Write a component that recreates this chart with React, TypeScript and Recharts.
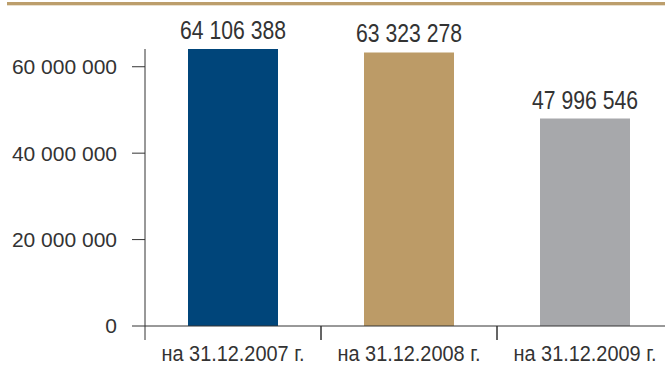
import { BarChart, Bar, XAxis, YAxis, Cell, LabelList } from 'recharts';

const categories = ['на 31.12.2007 г.', 'на 31.12.2008 г.', 'на 31.12.2009 г.'];
const values = [64106388, 63323278, 47996546];
const barColors = ['#00457a', '#bc9b67', '#a7a8ab'];
const yTicks = [0, 20000000, 40000000, 60000000];

const data = categories.map((name, i) => ({ name, value: values[i] }));

const fmt = (v: number) => String(v).replace(/\B(?=(\d{3})+(?!\d))/g, ' ');

const font = '"Liberation Sans", Arial, sans-serif';
const textColor = '#333333';
const axisColor = '#333333';

// category label plus the boundary tick marks on both sides of the band
function CategoryTick(props: any) {
  const { x, y, payload } = props;
  const half = payload.offset || 0;
  return (
    <g>
      <line x1={x - half} x2={x - half} y1={y} y2={y + 14} stroke={axisColor} />
      <line x1={x + half} x2={x + half} y1={y} y2={y + 14} stroke={axisColor} />
      <text
        x={x}
        y={y + 35}
        textAnchor="middle"
        fill={textColor}
        fontSize={22}
        fontFamily={font}
        textLength={143}
        lengthAdjust="spacingAndGlyphs"
      >
        {payload.value}
      </text>
    </g>
  );
}

function ValueLabel(props: any) {
  const { x, y, width, value } = props;
  return (
    <text
      x={x + width / 2}
      y={y - 10}
      textAnchor="middle"
      fill={textColor}
      fontSize={25}
      fontFamily={font}
      textLength={106}
      lengthAdjust="spacingAndGlyphs"
    >
      {fmt(Number(value))}
    </text>
  );
}

export default function App() {
  return (
    <div
      style={{
        position: 'fixed',
        left: 0,
        top: 0,
        width: 665,
        height: 365,
        overflow: 'hidden',
        background: '#fff',
        fontFamily: font,
      }}
    >
      <div style={{ position: 'absolute', left: 7, top: 2, width: 658, height: 3, background: '#bc9e6c' }} />
      <div style={{ position: 'absolute', left: 7, top: 5, width: 658, height: 1, background: '#e9e0cf' }} />
      <BarChart
        width={680}
        height={365}
        data={data}
        margin={{ top: 49, right: 7, bottom: 0, left: 0 }}
        barCategoryGap={43}
      >
        <XAxis
          dataKey="name"
          height={39}
          stroke={axisColor}
          tickLine={false}
          tickSize={0}
          tickMargin={0}
          interval={0}
          tick={<CategoryTick />}
        />
        <YAxis
          width={145}
          domain={[0, 64106388]}
          ticks={yTicks}
          tickFormatter={fmt}
          tickSize={13}
          tickMargin={15}
          stroke={axisColor}
          tick={{ fill: textColor, fontSize: 21, fontFamily: font }}
        />
        <Bar dataKey="value" isAnimationActive={false}>
          {data.map((d, i) => (
            <Cell key={d.name} fill={barColors[i]} />
          ))}
          <LabelList dataKey="value" content={<ValueLabel />} />
        </Bar>
      </BarChart>
    </div>
  );
}
